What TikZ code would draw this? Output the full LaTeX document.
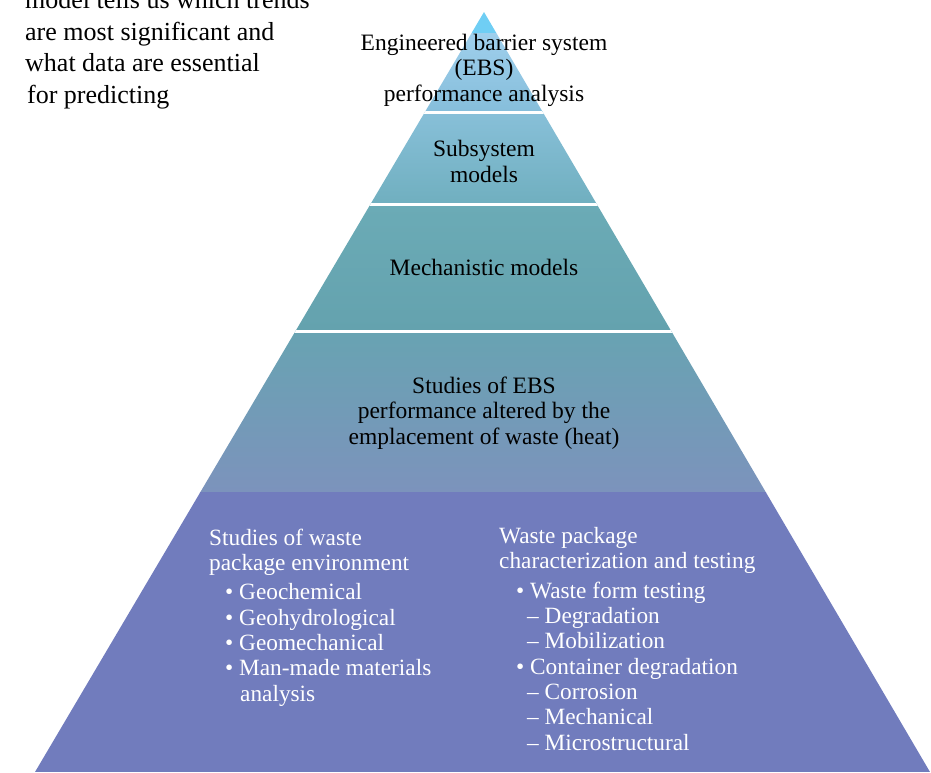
\documentclass[tikz,border=0pt]{standalone}
\usepackage{fontspec}
\setmainfont{Liberation Serif}
\definecolor{tipblue}{HTML}{6FCEF4}
\definecolor{bAtop}{HTML}{9FCFEC}
\definecolor{bAbot}{HTML}{86BEDB}
\definecolor{bBtop}{HTML}{88C0D9}
\definecolor{bBbot}{HTML}{70AFBF}
\definecolor{bCtop}{HTML}{6BABB6}
\definecolor{bCbot}{HTML}{64A2AE}
\definecolor{bDtop}{HTML}{68A3B2}
\definecolor{bDbot}{HTML}{7C93BC}
\definecolor{bE}{HTML}{717CBD}
\tikzset{
  pyr/.style={inner sep=0pt, align=center, text=black, font=\fontsize{23.5}{25.5}\selectfont},
  low/.style={inner sep=0pt, align=left, text=white, font=\fontsize{23.3}{25.3}\selectfont},
  note/.style={inner sep=0pt, align=left, text=black, font=\fontsize{26}{31.5}\selectfont},
  gap/.style={fill=white}
}
\begin{document}
\begin{tikzpicture}[x=1pt,y=-1pt]
\useasboundingbox (0,0) rectangle (931,772);
\begin{scope}
  \clip (484,12) -- (35,772) -- (930,772) -- cycle;
  \fill[tipblue] (0,0) rectangle (931,33);
  \shade[top color=bAtop, bottom color=bAbot] (0,33) rectangle (931,111);
  \shade[top color=bBtop, bottom color=bBbot] (0,111) rectangle (931,204);
  \shade[top color=bCtop, bottom color=bCbot] (0,204) rectangle (931,331);
  \shade[top color=bDtop, bottom color=bDbot] (0,331) rectangle (931,492);
  \fill[bE] (0,492) rectangle (931,772);
  \fill[gap] (0,110.5) rectangle (931,113.5);
  \fill[gap] (0,203) rectangle (931,206);
  \fill[gap] (0,329.5) rectangle (931,332.5);
\end{scope}
\begin{scope}
  \clip (0,0) rectangle (931,772);
  \node[note, anchor=base west] (note) at (25,103) {model tells us which trends\\are most significant and\\what data are essential\\\hspace*{2pt}for predicting};
\end{scope}
\node[pyr, anchor=base] (ebs) at (484,101) {Engineered barrier system\\(EBS)\\performance analysis};
\node[pyr, anchor=base] (sub) at (484,182) {Subsystem\\models};
\node[pyr, anchor=base] (mech) at (484,275) {Mechanistic models};
\node[pyr, anchor=base] (alt) at (484,444) {Studies of EBS\\performance altered by the\\emplacement of waste (heat)};
\node[low, anchor=base west] (env) at (209,701) {Studies of waste\\package environment\\[4pt]\hspace*{16pt}• Geochemical\\\hspace*{16pt}• Geohydrological\\\hspace*{16pt}• Geomechanical\\\hspace*{16pt}• Man-made materials\\\hspace*{31pt}analysis};
\node[low, anchor=base west] (pkg) at (499,750) {Waste package\\characterization and testing\\[4pt]\hspace*{17pt}• Waste form testing\\\hspace*{28pt}– Degradation\\\hspace*{28pt}– Mobilization\\\hspace*{17pt}• Container degradation\\\hspace*{28pt}– Corrosion\\\hspace*{28pt}– Mechanical\\\hspace*{28pt}– Microstructural};
\end{tikzpicture}
\end{document}
